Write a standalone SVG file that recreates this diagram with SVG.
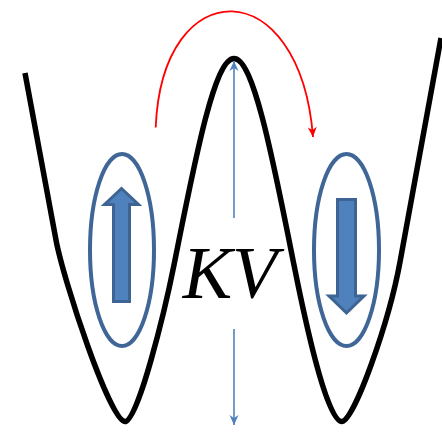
<svg xmlns="http://www.w3.org/2000/svg" width="442" height="432" viewBox="0 0 442 432">
<style>
.well{fill:none;stroke:#000;stroke-width:5.5;stroke-linejoin:round}
.ring{fill:none;stroke:#3F6696;stroke-width:4}
.spin{fill:#4F81BD;stroke:#3D6492;stroke-width:3;stroke-linejoin:miter}
.barrier{fill:none;stroke:#4F81BD;stroke-width:1.6}
.hop{fill:none;stroke:#FF0000;stroke-width:1.8}
.lbl{font-family:"Liberation Serif","Times New Roman",serif;font-style:italic;font-size:74px;fill:#000}
</style>
<defs>
<marker id="ahBlue" markerUnits="userSpaceOnUse" markerWidth="14" markerHeight="12" refX="0" refY="0" viewBox="-11 -6 12 12" orient="auto">
<path d="M0,0 L-10,-4.5 L-7,0 L-10,4.5 Z" fill="#4F81BD"/>
</marker>
<marker id="ahRed" markerUnits="userSpaceOnUse" markerWidth="14" markerHeight="12" refX="0" refY="0" viewBox="-11 -6 12 12" orient="auto">
<path d="M0,0 L-10,-4.5 L-7,0 L-10,4.5 Z" fill="#FF0000"/>
</marker>
</defs>
<g id="potential">
<path class="well" d="M25,73 L56,240 C63.4,280 110,421.5 125,421.5 C138,421.5 165,310 174,265 C194,165 214,58.5 234,58.5 C254,58.5 274,165 294,265 C303,310 326,421.5 341.7,421.5 C354,421.5 389,322 400,262 L441,38"/>
</g>
<g id="left-state">
<ellipse class="ring" cx="122" cy="250" rx="32" ry="96"/>
<path class="spin" d="M113.5,301.5 V204.5 H104.5 L121.5,188.5 L138.5,204.5 H129.5 V301.5 Z"/>
</g>
<g id="right-state">
<ellipse class="ring" cx="346.5" cy="250" rx="32.5" ry="96"/>
<path class="spin" d="M337.5,199.5 H355.5 V296 H364 L346.5,313 L329,296 H337.5 Z"/>
</g>
<g id="label">
<text class="lbl" x="230" y="297.5" text-anchor="middle">KV</text>
</g>
<g id="connectors">
<path class="barrier" d="M234,218 V61" marker-end="url(#ahBlue)"/>
<path class="barrier" d="M234,329 V425" marker-end="url(#ahBlue)"/>
<path class="hop" d="M155.7,127.5 C162,-29 300,-29 313,137" marker-end="url(#ahRed)"/>
</g>
</svg>
